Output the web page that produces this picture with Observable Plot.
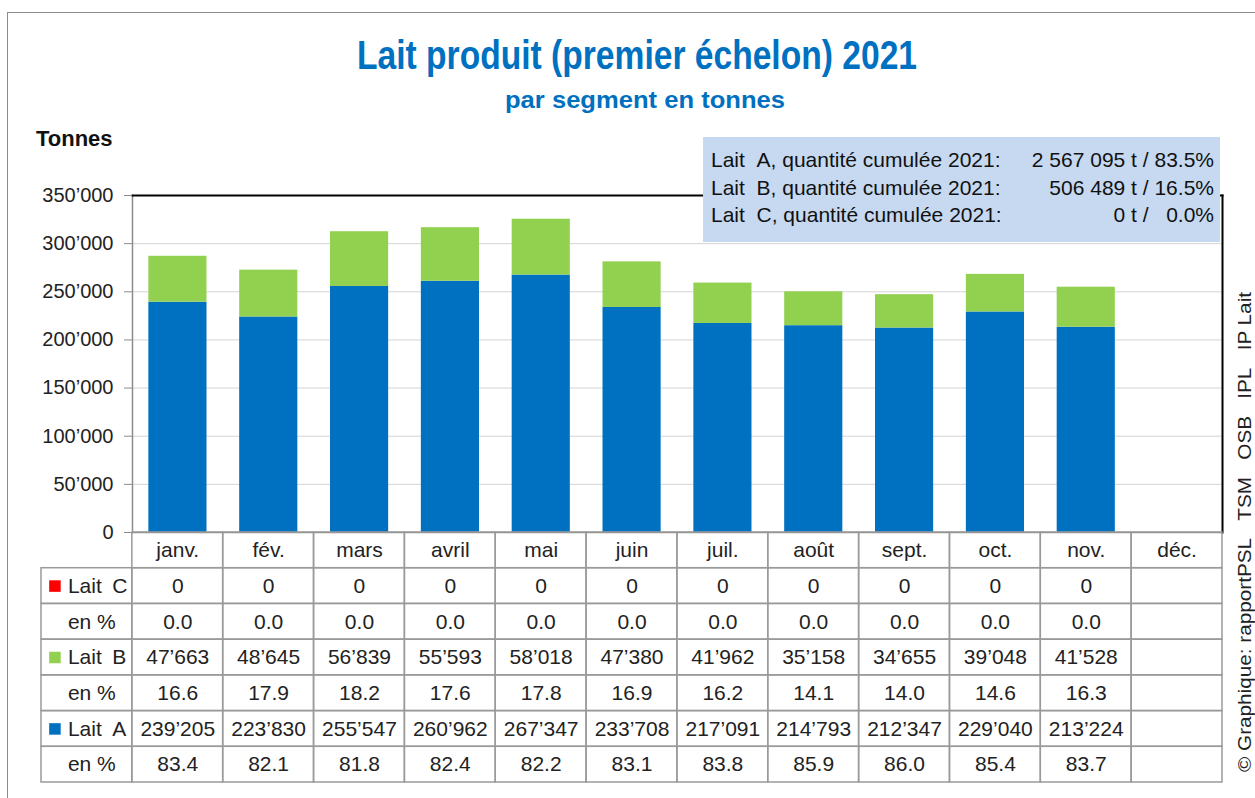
<!DOCTYPE html>
<html>
<head>
<meta charset="utf-8">
<script src="https://cdn.jsdelivr.net/npm/d3@7"></script>
<script src="https://cdn.jsdelivr.net/npm/@observablehq/plot@0.6"></script>
<style>
  html, body { margin: 0; padding: 0; background: #fff; }
  #root { position: relative; width: 1255px; height: 798px; overflow: hidden; font-family: "Liberation Sans", Arial, sans-serif; }
  .abs { position: absolute; }
  .frame { left: 7px; top: 12px; width: 1300px; height: 800px; border-left: 1.5px solid #8c8c8c; border-top: 1.5px solid #8c8c8c; }
  .title { white-space: nowrap; font-weight: bold; color: #0070c0; transform-origin: 0 0; }
  #info { left: 703px; top: 137px; width: 517px; height: 105px; background: #c6d9f1; font-size: 21px; color: #111; }
  #info .row { position: absolute; left: 8px; right: 6px; height: 27px; line-height: 27px; white-space: nowrap; }
  #info .val { position: absolute; right: 0; top: 0; }
  #chart, #table { width: 1255px; }
  #chart svg, #table svg { position: absolute; left: 0; top: 0; margin: 0; overflow: visible; max-width: none !important; }
</style>
</head>
<body>
<div id="root">
  <div class="abs frame"></div>
  <div id="chart" class="abs" style="left:0;top:0;height:540px"></div>
  <div id="table" class="abs" style="left:0;top:532px;height:251px"></div>
  <div id="t1" class="abs title" style="font-size:40px;"></div>
  <div id="t2" class="abs title" style="font-size:24px;"></div>
  <div class="abs" style="left:36px;top:126px;font-size:22px;font-weight:bold;color:#111;">Tonnes</div>
  <div id="info" class="abs"></div>
  <div id="credit" class="abs" style="white-space:nowrap;font-size:19px;color:#222;transform-origin:0 0;"></div>
</div>
<script>
// ---- data ----
const months = ["janv.", "fév.", "mars", "avril", "mai", "juin", "juil.", "août", "sept.", "oct.", "nov.", "déc."];
const laitA = [239205, 223830, 255547, 260962, 267347, 233708, 217091, 214793, 212347, 229040, 213224, null];
const laitB = [47663, 48645, 56839, 55593, 58018, 47380, 41962, 35158, 34655, 39048, 41528, null];
const laitC = [0, 0, 0, 0, 0, 0, 0, 0, 0, 0, 0, null];
const pctA = [83.4, 82.1, 81.8, 82.4, 82.2, 83.1, 83.8, 85.9, 86.0, 85.4, 83.7, null];
const pctB = [16.6, 17.9, 18.2, 17.6, 17.8, 16.9, 16.2, 14.1, 14.0, 14.6, 16.3, null];
const pctC = [0.0, 0.0, 0.0, 0.0, 0.0, 0.0, 0.0, 0.0, 0.0, 0.0, 0.0, null];
const series = ["Lait A", "Lait B", "Lait C"];
const seriesColors = ["#0070c0", "#92d050", "#ff0000"];
const yTicks = [0, 50000, 100000, 150000, 200000, 250000, 300000, 350000];
const infoLabels = ["Lait\u00a0\u00a0A, quantité cumulée 2021:", "Lait\u00a0\u00a0B, quantité cumulée 2021:", "Lait\u00a0\u00a0C, quantité cumulée 2021:"];
const infoTonnes = ["2\u00a0567\u00a0095", "506\u00a0489", "0"];
const infoPct = ["83.5%", "16.5%", "\u00a0\u00a00.0%"];
const titleText = "Lait produit (premier échelon) 2021";
const subtitleText = "par segment en tonnes";
const creditText = "© Graphique: rapportPSL\u00a0\u00a0\u00a0TSM\u00a0\u00a0\u00a0OSB\u00a0\u00a0\u00a0IPL\u00a0\u00a0\u00a0IP Lait";

const fmt = d => d3.format(",")(d).replace(/,/g, "’");

// ---- chart ----
const stackData = [];
months.forEach((m, i) => {
  if (laitA[i] == null) return;
  stackData.push({month: m, serie: "Lait A", value: laitA[i]});
  stackData.push({month: m, serie: "Lait B", value: laitB[i]});
  stackData.push({month: m, serie: "Lait C", value: laitC[i]});
});

const chart = Plot.plot({
  width: 1255, height: 540,
  marginLeft: 132, marginRight: 33, marginTop: 195, marginBottom: 8,
  style: {fontFamily: "Liberation Sans, Arial, sans-serif", background: "transparent"},
  x: {domain: months, paddingInner: 0.36, paddingOuter: 0.18, round: false, axis: null},
  y: {domain: [0, 350000], axis: null},
  color: {domain: series, range: seriesColors},
  marks: [
    Plot.gridY(yTicks.filter(t => t > 0 && t < 350000), {stroke: "#d4d4d4", strokeOpacity: 1}),
    Plot.barY(stackData, {x: "month", y: "value", fill: "serie"}),
    Plot.frame({anchor: "left", stroke: "#8c8c8c", strokeWidth: 1.5}),
    Plot.frame({anchor: "bottom", stroke: "#8c8c8c", strokeWidth: 1.5}),
    Plot.frame({anchor: "top", stroke: "#000", strokeWidth: 2}),
    Plot.frame({anchor: "right", stroke: "#000", strokeWidth: 2}),
    Plot.axisY({ticks: yTicks, tickFormat: fmt, tickSize: 8, tickPadding: 11, fontSize: 20, fill: "#222", stroke: "#8c8c8c", label: null})
  ]
});
document.getElementById("chart").appendChild(chart);

// ---- table ----
const rows = ["m", "C", "Cp", "B", "Bp", "A", "Ap"];
const cols = ["lbl", ...months];
const cellData = [];
const textData = [];
months.forEach((m, i) => {
  rows.forEach(r => cellData.push({col: m, row: r}));
  textData.push({col: m, row: "m", t: m});
  if (laitA[i] != null) {
    textData.push({col: m, row: "C", t: fmt(laitC[i])});
    textData.push({col: m, row: "Cp", t: pctC[i].toFixed(1)});
    textData.push({col: m, row: "B", t: fmt(laitB[i])});
    textData.push({col: m, row: "Bp", t: pctB[i].toFixed(1)});
    textData.push({col: m, row: "A", t: fmt(laitA[i])});
    textData.push({col: m, row: "Ap", t: pctA[i].toFixed(1)});
  }
});
rows.slice(1).forEach(r => cellData.push({col: "lbl", row: r}));
const labelData = [
  {row: "C", t: "Lait\u2002C", s: "Lait C"},
  {row: "Cp", t: "en %", s: null},
  {row: "B", t: "Lait\u2002B", s: "Lait B"},
  {row: "Bp", t: "en %", s: null},
  {row: "A", t: "Lait\u2002A", s: "Lait A"},
  {row: "Ap", t: "en %", s: null}
];

const table = Plot.plot({
  width: 1255, height: 251,
  marginLeft: 41, marginRight: 33, marginTop: 0, marginBottom: 1,
  style: {fontFamily: "Liberation Sans, Arial, sans-serif", background: "transparent"},
  x: {domain: cols, padding: 0, round: false, axis: null},
  y: {domain: rows, padding: 0, round: false, axis: null},
  color: {domain: series, range: seriesColors},
  marks: [
    Plot.cell(cellData, {x: "col", y: "row", fill: "none", stroke: "#9a9a9a", strokeWidth: 1.5}),
    Plot.text(textData, {x: "col", y: "row", text: "t", fontSize: 21, fill: "#222"}),
    Plot.dot(labelData.filter(d => d.s), {x: () => "lbl", y: "row", fill: "s", symbol: "square", r: 6.5, dx: -32}),
    Plot.text(labelData, {x: () => "lbl", y: "row", text: "t", textAnchor: "start", dx: -19, fontSize: 21, fill: "#222"})
  ]
});
document.getElementById("table").appendChild(table);

// ---- info box ----
const info = document.getElementById("info");
infoLabels.forEach((l, i) => {
  const row = document.createElement("div");
  row.className = "row";
  row.style.top = (9 + i * 27.5) + "px";
  row.innerHTML = `<span>${l}</span><span class="val">${infoTonnes[i]}\u00a0t / ${infoPct[i]}</span>`;
  info.appendChild(row);
});

// ---- titles (fit to reference widths) ----
function fit(el, text, cx, top, w) {
  el.textContent = text;
  const nat = el.getBoundingClientRect().width;
  const s = w / nat;
  el.style.transform = `scaleX(${s})`;
  el.style.left = (cx - w / 2) + "px";
  el.style.top = top + "px";
}
fit(document.getElementById("t1"), titleText, 637, 33, 560);
fit(document.getElementById("t2"), subtitleText, 645, 86, 280);

const cr = document.getElementById("credit");
cr.textContent = creditText;
const cw = cr.getBoundingClientRect().width;
const cs = 480 / cw;
cr.style.left = "1234px";
cr.style.top = "772px";
cr.style.transform = `rotate(-90deg) scaleX(${cs})`;
</script>
</body>
</html>
